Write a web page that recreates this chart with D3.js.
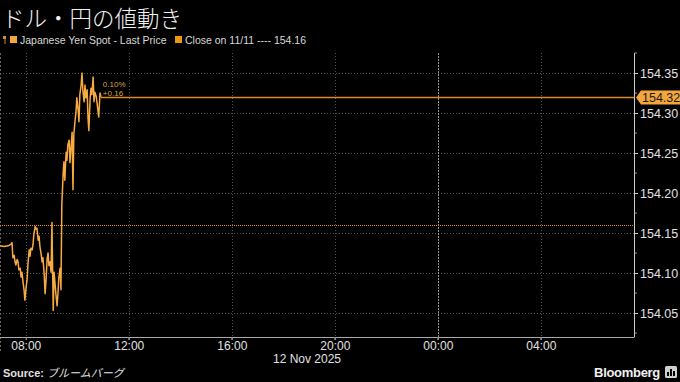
<!DOCTYPE html>
<html>
<head>
<meta charset="utf-8">
<script src="https://cdn.jsdelivr.net/npm/d3@7"></script>
<style>
  html, body { margin: 0; padding: 0; background: #000; }
  svg { display: block; font-family: "Liberation Sans", Arial, sans-serif; }
</style>
</head>
<body>
<svg id="chart" width="680" height="382"></svg>
<script>
// intraday USD/JPY, Tokyo time on 12 Nov 2025
var times = ["07:00","07:09","07:19","07:26","07:28","07:30","07:33","07:35","07:37","07:40",
  "07:42","07:44","07:47","07:49","07:51","07:54","07:56","07:58","08:01","08:03",
  "08:05","08:08","08:10","08:12","08:15","08:17","08:19","08:22","08:24","08:26",
  "08:29","08:31","08:33","08:36","08:38","08:40","08:43","08:45","08:47","08:50",
  "08:52","08:54","08:57","08:59","09:01","09:04","09:06","09:08","09:10","09:13",
  "09:15","09:17","09:20","09:22","09:24","09:27","09:29","09:31","09:34","09:36",
  "09:38","09:41","09:43","09:45","09:48","09:50","09:52","09:55","09:57","09:59",
  "10:02","10:04","10:06","10:09","10:11","10:13","10:16","10:18","10:20","10:23",
  "10:25","10:27","10:30","10:32","10:34","10:37","10:39","10:41","10:44","10:46",
  "10:48","10:50","10:53","10:55"];
var prices = [154.134,154.133,154.134,154.136,154.138,154.119,154.122,154.114,154.110,154.117,
  154.114,154.104,154.106,154.095,154.101,154.087,154.079,154.066,154.083,154.091,
  154.110,154.129,154.121,154.131,154.129,154.136,154.149,154.158,154.155,154.156,
  154.141,154.146,154.133,154.123,154.114,154.119,154.098,154.074,154.089,154.119,
  154.125,154.109,154.114,154.101,154.163,154.053,154.101,154.088,154.075,154.059,
  154.074,154.094,154.106,154.079,154.185,154.223,154.239,154.216,154.251,154.241,
  154.260,154.266,154.238,154.254,154.276,154.204,154.273,154.291,154.301,154.319,
  154.304,154.289,154.323,154.335,154.350,154.329,154.314,154.335,154.319,154.329,
  154.294,154.278,154.319,154.331,154.323,154.345,154.314,154.326,154.321,154.313,
  154.304,154.295,154.325,154.320];

var prevClose = 154.16;
var lastPrice = 154.32;
var changeLabels = ["0.10%", "+0.16"];
var yTicks = [154.05, 154.10, 154.15, 154.20, 154.25, 154.30, 154.35];

(function() {
  var svg = d3.select("#chart");
  var W = 680, H = 382;
  var pLeft = 0, pRight = 634, pTop = 53, pBottom = 337;

  var parse = d3.timeParse("%Y-%m-%d %H:%M");
  var day = "2025-11-12";
  var data = times.map(function(t, i) {
    return { date: parse(day + " " + t), value: prices[i] };
  });

  var x = d3.scaleTime()
      .domain([parse("2025-11-12 07:00"), parse("2025-11-13 07:37")])
      .range([pLeft, pRight]);
  var y = d3.scaleLinear()
      .domain([154.02, 154.375])
      .range([pBottom, pTop]);

  svg.append("rect").attr("width", W).attr("height", H).attr("fill", "#000");

  // title + legend
  svg.append("text")
      .attr("x", 2).attr("y", 27)
      .attr("fill", "#f2f2f2")
      .style("font-family", "'Noto Sans CJK JP', sans-serif")
      .style("font-size", "22.5px")
      .style("font-weight", 300)
      .text("ドル・円の値動き");

  var lg = svg.append("g").attr("transform", "translate(0,40)");
  lg.append("line").attr("x1", 5).attr("x2", 5).attr("y1", -4).attr("y2", 4)
      .attr("stroke", "#c98d3a").attr("stroke-width", 1);
  lg.append("rect").attr("x", 3).attr("y", -4).attr("width", 3).attr("height", 3).attr("fill", "#c98d3a");
  lg.append("rect").attr("x", 10).attr("y", -4).attr("width", 7).attr("height", 7).attr("fill", "#f5a63a");
  lg.append("text").attr("x", 20).attr("y", 3.5).attr("fill", "#d8d8d8")
      .style("font-size", "10.5px").text("Japanese Yen Spot - Last Price");
  lg.append("rect").attr("x", 175).attr("y", -4).attr("width", 7).attr("height", 7).attr("fill", "#f0960e");
  lg.append("text").attr("x", 185).attr("y", 3.5).attr("fill", "#d8d8d8")
      .style("font-size", "10.5px").text("Close on 11/11 ---- " + prevClose.toFixed(2));

  // grid
  var grid = svg.append("g");
  grid.selectAll(".hg").data(yTicks).enter().append("line")
      .attr("x1", pLeft).attr("x2", pRight)
      .attr("y1", function(d) { return Math.round(y(d)) + 0.5; })
      .attr("y2", function(d) { return Math.round(y(d)) + 0.5; })
      .attr("stroke", "#555").attr("stroke-dasharray", "1,2");

  var xTickDates = d3.timeHour.every(4).range(parse("2025-11-12 08:00"), parse("2025-11-13 07:37"));
  grid.selectAll(".vg").data(xTickDates).enter().append("line")
      .attr("x1", function(d) { return Math.round(x(d)) + 0.5; })
      .attr("x2", function(d) { return Math.round(x(d)) + 0.5; })
      .attr("y1", pTop).attr("y2", pBottom)
      .attr("stroke", function(d) { return d.getHours() === 0 ? "#999" : "#555"; })
      .attr("stroke-dasharray", function(d) { return d.getHours() === 0 ? "2,1" : "1,2"; });

  svg.append("line").attr("x1", 0.5).attr("x2", 0.5).attr("y1", pTop).attr("y2", 352)
      .attr("stroke", "#666").attr("stroke-dasharray", "2,2");

  // previous close
  svg.append("line")
      .attr("x1", pLeft).attr("x2", pRight)
      .attr("y1", Math.round(y(prevClose)) + 0.5).attr("y2", Math.round(y(prevClose)) + 0.5)
      .attr("stroke", "#e8901a").attr("stroke-width", 1).attr("stroke-dasharray", "1,1");

  // price line
  var line = d3.line()
      .x(function(d) { return x(d.date); })
      .y(function(d) { return y(d.value); });
  svg.append("path").datum(data)
      .attr("d", line)
      .attr("fill", "none")
      .attr("stroke", "#f7aa40")
      .attr("stroke-width", 1.5)
      .attr("stroke-linejoin", "round");

  var last = data[data.length - 1];
  var ly = Math.round(y(lastPrice)) + 0.5;
  svg.append("line")
      .attr("x1", x(last.date)).attr("x2", pRight)
      .attr("y1", ly).attr("y2", ly)
      .attr("stroke", "#d98a1c").attr("stroke-width", 1.3);

  svg.selectAll(".chg").data(changeLabels).enter().append("text")
      .attr("x", x(last.date) + 2)
      .attr("y", function(d, i) { return ly - 11 + i * 9; })
      .attr("fill", "#d9a04e")
      .style("font-size", "8px")
      .text(function(d) { return d; });

  // y axis
  var yAxis = d3.axisRight(y)
      .tickValues(yTicks)
      .tickSize(4)
      .tickFormat(d3.format(".2f"));
  var ya = svg.append("g").attr("transform", "translate(" + pRight + ",0)").call(yAxis);
  ya.select(".domain").attr("stroke", "#ccc").attr("d", "M0.5," + pTop + "V" + pBottom);
  ya.selectAll(".tick line").attr("stroke", "#ccc");
  ya.selectAll(".tick text").attr("fill", "#e0e0e0").attr("x", 6)
      .style("font-size", "12.5px").style("font-family", "'Liberation Sans', Arial, sans-serif");
  var minorY = d3.range(0, yTicks.length + 1).map(function(i) { return 154.025 + i * 0.05; });
  ya.selectAll(".minor").data(minorY).enter().append("line")
      .attr("x1", 0.5).attr("x2", 3)
      .attr("y1", function(d) { return y(d); }).attr("y2", function(d) { return y(d); })
      .attr("stroke", "#999");

  // last price tag
  svg.append("path")
      .attr("d", "M" + (pRight + 2) + "," + ly + "L" + (pRight + 7) + "," + (ly - 7) + "H680V" + (ly + 7) + "H" + (pRight + 7) + "Z")
      .attr("fill", "#f5a63a");
  svg.append("text").attr("x", pRight + 8).attr("y", ly + 4.5)
      .attr("fill", "#1a1a1a")
      .style("font-size", "12.5px")
      .text(lastPrice.toFixed(2));

  // x axis
  var xAxis = d3.axisBottom(x)
      .tickValues(xTickDates)
      .tickSize(3)
      .tickFormat(d3.timeFormat("%H:%M"));
  var xa = svg.append("g").attr("transform", "translate(0," + pBottom + ")").call(xAxis);
  xa.select(".domain").attr("stroke", "#aaa").attr("d", "M" + pLeft + ",0.5H" + (pRight + 0.5));
  xa.selectAll(".tick line").attr("stroke", "#aaa");
  xa.selectAll(".tick text").attr("fill", "#e0e0e0").attr("dy", "0.6em")
      .style("font-size", "12px").style("font-family", "'Liberation Sans', Arial, sans-serif");
  var minorX = d3.timeHour.every(4).range(parse("2025-11-12 10:00"), parse("2025-11-13 07:37"));
  xa.selectAll(".minor").data(minorX).enter().append("line")
      .attr("x1", function(d) { return x(d); }).attr("x2", function(d) { return x(d); })
      .attr("y1", 0).attr("y2", 3).attr("stroke", "#888");

  svg.append("text").attr("x", 307).attr("y", 363)
      .attr("text-anchor", "middle").attr("fill", "#e0e0e0")
      .style("font-size", "12px").text("12 Nov 2025");

  // footer
  var src = svg.append("text").attr("x", 3).attr("y", 377).attr("fill", "#e0e0e0").style("font-size", "11px");
  src.append("tspan").style("font-weight", "bold").text("Source: ");
  src.append("tspan").style("font-family", "'Noto Sans CJK JP', sans-serif").style("font-style", "italic").text("ブルームバーグ");

  svg.append("text").attr("x", 660).attr("y", 377).attr("text-anchor", "end")
      .attr("fill", "#f0f0f0").style("font-size", "13px").style("font-weight", "bold")
      .style("letter-spacing", "-0.3px").text("Bloomberg");
  svg.append("rect").attr("x", 665).attr("y", 366).attr("width", 12).attr("height", 12).attr("rx", 1.5).attr("fill", "#d0d0d0");
  svg.selectAll(".bars").data([4, 7, 5]).enter().append("rect")
      .attr("x", function(d, i) { return 667 + i * 3; })
      .attr("y", function(d) { return 376 - d; })
      .attr("width", 2).attr("height", function(d) { return d; })
      .attr("fill", "#000");
})();
</script>
</body>
</html>
